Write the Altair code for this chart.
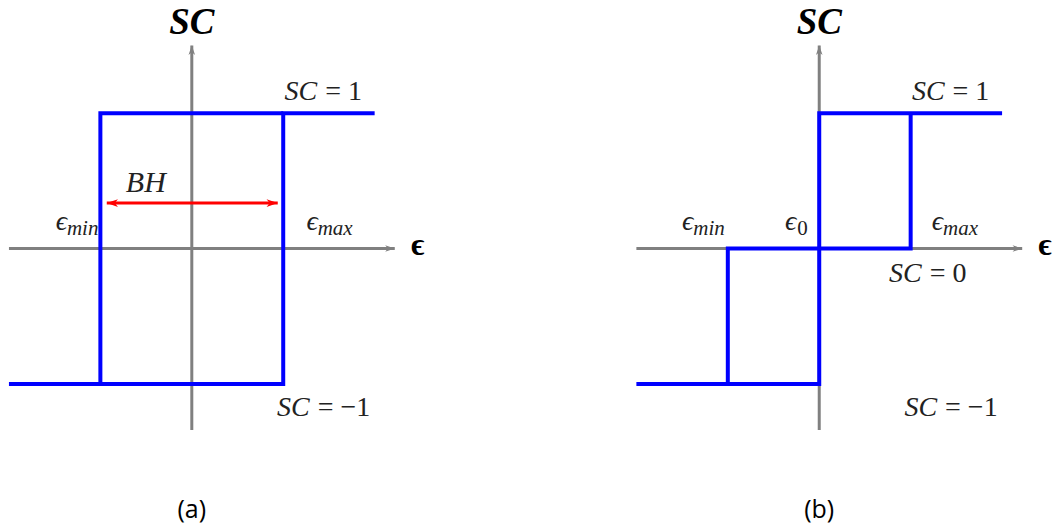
import altair as alt
import pandas as pd

# ---- switching thresholds (strain units) and SC levels ----
EPS_MIN, EPS_0, EPS_MAX = -1.0, 0.0, 1.0

# Panel (a): two-level hysteresis, each branch as one polyline
A_RISE_EPS = [-2.0, 1.0, 1.0, 2.0]
A_RISE_SC = [-1, -1, 1, 1]
A_FALL_EPS = [1.0, -1.0, -1.0]
A_FALL_SC = [1, 1, -1]

# Panel (b): three-level switching
B_MAIN_EPS = [-2.0, 0.0, 0.0, 2.0]
B_MAIN_SC = [-1, -1, 1, 1]
B_MID_EPS = [-1.0, -1.0, 1.0, 1.0]
B_MID_SC = [-1, 0, 0, 1]

# Coordinate axes drawn inside each panel
EPS_AXIS = [-2.0, 2.22]
SC_AXIS = [-1.34, 1.50]

# Band-width arrow of panel (a)
BH_EPS = [-0.93, 0.94]
BH_SC = 0.336
BH_LABEL = (-0.503, 0.417)

# "SC = v" annotations: value, anchor eps, anchor sc (baseline)
A_EQ_VALUES = [1, -1]
A_EQ_EPS = [1.415, 1.333]
A_EQ_SC = [1.096, -1.236]
B_EQ_VALUES = [1, 0, -1]
B_EQ_EPS = [1.415, 1.164, 1.333]
B_EQ_SC = [1.096, -0.247, -1.236]

# epsilon threshold labels (subscripts) placed just above the eps axis
A_SUBS = ["min", "max"]
A_SUB_EPS = [-1.366, 1.377]
B_SUBS = ["min", "0", "max"]
B_SUB_EPS = [-1.377, -0.251, 1.355]
SUB_SC = 0.1365

TITLE_POS = (0.0, 1.583)
EPS_NAME_POS = (2.47, -0.048)
CAPTION_POS = (0.0, -1.99)

Y_DOMAIN = [-2.018, 1.834]
A_X_DOMAIN = [-2.087, 3.661]
B_X_DOMAIN = [-3.202, 2.557]

GRAY = "#808080"
BLUE = "#0000ff"
RED = "#ff0000"
INK = "#222222"
MATH = "Liberation Serif"
STEALTH = "M0,0 L-1.6,-0.55 L-1.15,0 L-1.6,0.55 Z"


def xy(xdom, **extra):
    return dict(
        x=alt.X("eps:Q", scale=alt.Scale(domain=xdom, nice=False, zero=False), axis=None),
        y=alt.Y("sc:Q", scale=alt.Scale(domain=Y_DOMAIN, nice=False, zero=False), axis=None),
        **extra,
    )


def polylines(paths):
    rows = []
    for k, (xs, ys) in enumerate(paths):
        for i, (e, s) in enumerate(zip(xs, ys)):
            rows.append({"eps": e, "sc": s, "seg": k, "i": i})
    return pd.DataFrame(rows)


def panel(xdom, branches, eq_values, eq_eps, eq_sc, subs, sub_eps, caption, with_bh):
    layers = []

    # gray coordinate axes with arrowheads
    axes = polylines([(EPS_AXIS, [0, 0]), ([0, 0], SC_AXIS)])
    layers.append(
        alt.Chart(axes).mark_line(color=GRAY, strokeWidth=3, strokeCap="butt")
        .encode(**xy(xdom, detail="seg:N", order="i:Q"))
    )
    layers.append(
        alt.Chart(pd.DataFrame({"eps": [EPS_AXIS[1]], "sc": [0]}))
        .mark_point(shape=STEALTH, filled=True, size=144, color=GRAY, opacity=1, strokeWidth=0, angle=0)
        .encode(**xy(xdom))
    )
    layers.append(
        alt.Chart(pd.DataFrame({"eps": [0], "sc": [SC_AXIS[1]]}))
        .mark_point(shape=STEALTH, filled=True, size=144, color=GRAY, opacity=1, strokeWidth=0, angle=270)
        .encode(**xy(xdom))
    )

    # axis names
    layers.append(
        alt.Chart(pd.DataFrame({"eps": [TITLE_POS[0]], "sc": [TITLE_POS[1]], "t": ["SC"]}))
        .mark_text(font=MATH, fontSize=37, fontStyle="italic", fontWeight="bold",
                   align="center", baseline="alphabetic", color="black")
        .encode(**xy(xdom, text="t:N"))
    )
    layers.append(
        alt.Chart(pd.DataFrame({"eps": [EPS_NAME_POS[0]], "sc": [EPS_NAME_POS[1]], "t": ["\u03f5"]}))
        .mark_text(font=MATH, fontSize=32, fontWeight="bold",
                   align="center", baseline="alphabetic", color="black")
        .encode(**xy(xdom, text="t:N"))
    )

    # SC = v labels: italic "SC", upright "= v"
    eq = pd.DataFrame({
        "eps": eq_eps, "sc": eq_sc,
        "lhs": ["SC"] * len(eq_values),
        "rhs": [("= " + str(v)).replace("-", "\u2212") for v in eq_values],
    })
    layers.append(
        alt.Chart(eq).mark_text(font=MATH, fontSize=28, fontStyle="italic", align="right",
                                baseline="alphabetic", dx=-4, color=INK)
        .encode(**xy(xdom, text="lhs:N"))
    )
    layers.append(
        alt.Chart(eq).mark_text(font=MATH, fontSize=28, align="left",
                                baseline="alphabetic", dx=4, color=INK)
        .encode(**xy(xdom, text="rhs:N"))
    )

    # epsilon threshold labels: italic word subscripts, upright digit subscripts
    sl = pd.DataFrame({"eps": sub_eps, "sc": [SUB_SC] * len(subs),
                       "e": ["\u03f5"] * len(subs), "s": subs})
    layers.append(
        alt.Chart(sl).mark_text(font=MATH, fontSize=28, fontStyle="italic", align="right",
                                baseline="alphabetic", color=INK)
        .encode(**xy(xdom, text="e:N"))
    )
    words = sl[~sl["s"].str.isdigit()]
    digits = sl[sl["s"].str.isdigit()]
    layers.append(
        alt.Chart(words).mark_text(font=MATH, fontSize=21, fontStyle="italic", align="left",
                                   baseline="alphabetic", dy=5, color=INK)
        .encode(**xy(xdom, text="s:N"))
    )
    if len(digits):
        layers.append(
            alt.Chart(digits).mark_text(font=MATH, fontSize=21, align="left",
                                        baseline="alphabetic", dy=5, dx=1, color=INK)
            .encode(**xy(xdom, text="s:N"))
        )

    # panel caption
    layers.append(
        alt.Chart(pd.DataFrame({"eps": [CAPTION_POS[0]], "sc": [CAPTION_POS[1]], "t": [caption]}))
        .mark_text(font="Open Sans", fontSize=25, align="center", baseline="alphabetic", color="black")
        .encode(**xy(xdom, text="t:N"))
    )

    # switching curve
    layers.append(
        alt.Chart(polylines(branches)).mark_line(color=BLUE, strokeWidth=4, strokeCap="butt",
                                                 strokeJoin="miter")
        .encode(**xy(xdom, detail="seg:N", order="i:Q"))
    )

    if with_bh:
        bh = pd.DataFrame({"eps": BH_EPS, "sc": [BH_SC, BH_SC]})
        layers.append(
            alt.Chart(bh).mark_line(color=RED, strokeWidth=3, strokeCap="butt")
            .encode(**xy(xdom))
        )
        layers.append(
            alt.Chart(bh.iloc[[1]]).mark_point(shape=STEALTH, filled=True, size=196, color=RED,
                                                opacity=1, strokeWidth=0, angle=0)
            .encode(**xy(xdom))
        )
        layers.append(
            alt.Chart(bh.iloc[[0]]).mark_point(shape=STEALTH, filled=True, size=196, color=RED,
                                                opacity=1, strokeWidth=0, angle=180)
            .encode(**xy(xdom))
        )
        layers.append(
            alt.Chart(pd.DataFrame({"eps": [BH_LABEL[0]], "sc": [BH_LABEL[1]], "t": ["BH"]}))
            .mark_text(font=MATH, fontSize=30, fontStyle="italic", align="center",
                       baseline="alphabetic", color=INK)
            .encode(**xy(xdom, text="t:N"))
        )

    return alt.layer(*layers)


panel_a = panel(
    A_X_DOMAIN,
    [(A_RISE_EPS, A_RISE_SC), (A_FALL_EPS, A_FALL_SC)],
    A_EQ_VALUES, A_EQ_EPS, A_EQ_SC, A_SUBS, A_SUB_EPS, "(a)", True,
).properties(width=526, height=522)

panel_b = panel(
    B_X_DOMAIN,
    [(B_MAIN_EPS, B_MAIN_SC), (B_MID_EPS, B_MID_SC)],
    B_EQ_VALUES, B_EQ_EPS, B_EQ_SC, B_SUBS, B_SUB_EPS, "(b)", False,
).properties(width=527, height=522)

chart = (
    alt.hconcat(panel_a, panel_b, spacing=0)
    .properties(padding=0, background="white")
    .configure_view(stroke=None)
)

chart.save("out.html", embed_options={"renderer": "svg", "actions": False})
